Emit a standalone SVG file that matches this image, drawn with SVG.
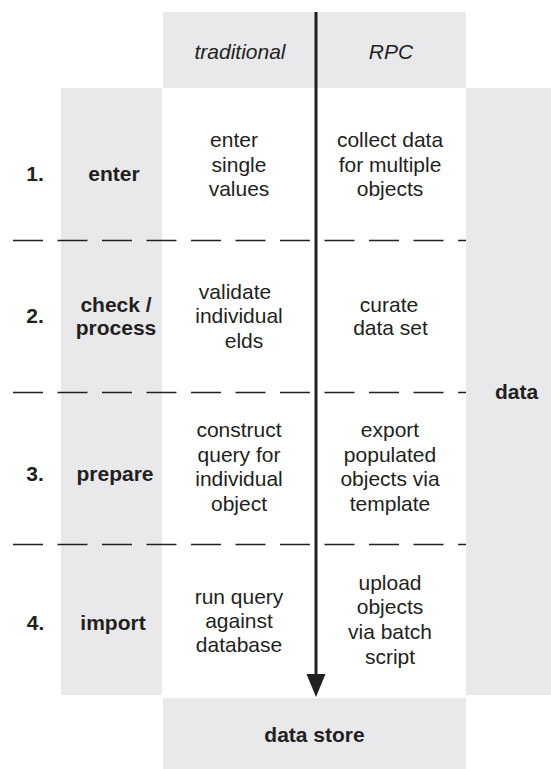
<svg xmlns="http://www.w3.org/2000/svg" width="551" height="769" viewBox="0 0 551 769">
  <style>
    .panel { fill: #e9e9eb; }
    .t { font-family: "Liberation Sans", Arial, Helvetica, sans-serif; font-size: 21px; fill: #231f20; text-anchor: middle; }
    .b { font-weight: bold; }
    .i { font-style: italic; }
    .sep { stroke: #231f20; stroke-width: 1.5; stroke-dasharray: 30 14.5; fill: none; }
    .flow { stroke: #231f20; stroke-width: 3; fill: none; }
  </style>
  <defs>
    <marker id="head" markerUnits="userSpaceOnUse" markerWidth="20" markerHeight="24" viewBox="0 0 20 24" refX="10" refY="24" orient="auto-start-reverse">
      <path d="M0,0 L20,0 L10,24 Z" fill="#231f20" transform="rotate(0)"/>
    </marker>
  </defs>

  <rect width="551" height="769" fill="#ffffff"/>

  <!-- grey panels -->
  <g id="header">
    <rect class="panel" x="163" y="12" width="303" height="76"/>
    <text class="t i" x="240" y="59">traditional</text>
    <text class="t i" x="391" y="59">RPC</text>
  </g>
  <g id="stage-column">
    <rect class="panel" x="61" y="88" width="101" height="607"/>
  </g>
  <g id="data">
    <rect class="panel" x="466" y="88" width="101" height="607"/>
    <text class="t b" x="516.5" y="399">data</text>
  </g>
  <g id="data-store">
    <rect class="panel" x="163" y="698" width="303" height="71"/>
    <text class="t b" x="314.5" y="742">data store</text>
  </g>

  <!-- row separators -->
  <g id="separators">
    <line class="sep" x1="13" y1="240.5" x2="466" y2="240.5"/>
    <line class="sep" x1="13" y1="392.5" x2="466" y2="392.5"/>
    <line class="sep" x1="13" y1="544.5" x2="466" y2="544.5"/>
  </g>

  <!-- step 1 -->
  <g id="step-enter">
    <text class="t b" x="35" y="181">1.</text>
    <text class="t b" x="114" y="181">enter</text>
    <text class="t" x="234" y="147">enter</text>
    <text class="t" x="239" y="171.5">single</text>
    <text class="t" x="239" y="196">values</text>
    <text class="t" x="390" y="147">collect data</text>
    <text class="t" x="390" y="171.5">for multiple</text>
    <text class="t" x="390" y="196">objects</text>
  </g>

  <!-- step 2 -->
  <g id="step-check">
    <text class="t b" x="35" y="323">2.</text>
    <text class="t b" x="116" y="312">check /</text>
    <text class="t b" x="116" y="335">process</text>
    <text class="t" x="235" y="298.5">validate</text>
    <text class="t" x="239" y="323">individual</text>
    <text class="t" x="244" y="347.5">elds</text>
    <text class="t" x="389" y="312">curate</text>
    <text class="t" x="390.5" y="335">data set</text>
  </g>

  <!-- step 3 -->
  <g id="step-prepare">
    <text class="t b" x="35" y="481">3.</text>
    <text class="t b" x="115" y="481">prepare</text>
    <text class="t" x="239" y="437">construct</text>
    <text class="t" x="239" y="461.5">query for</text>
    <text class="t" x="239" y="486">individual</text>
    <text class="t" x="239" y="510.5">object</text>
    <text class="t" x="390" y="437">export</text>
    <text class="t" x="390" y="461.5">populated</text>
    <text class="t" x="390" y="486">objects via</text>
    <text class="t" x="390" y="510.5">template</text>
  </g>

  <!-- step 4 -->
  <g id="step-import">
    <text class="t b" x="35.5" y="630">4.</text>
    <text class="t b" x="113" y="630">import</text>
    <text class="t" x="239" y="603.5">run query</text>
    <text class="t" x="239" y="627.5">against</text>
    <text class="t" x="239" y="651.5">database</text>
    <text class="t" x="390" y="590">upload</text>
    <text class="t" x="390" y="614">objects</text>
    <text class="t" x="390" y="639">via batch</text>
    <text class="t" x="390" y="663.5">script</text>
  </g>

  <!-- flow arrow -->
  <g id="connectors">
    <line class="flow" x1="316" y1="12" x2="316" y2="676"/>
    <path d="M306.5,674 L325.5,674 L316,697 Z" fill="#231f20"/>
  </g>
</svg>
